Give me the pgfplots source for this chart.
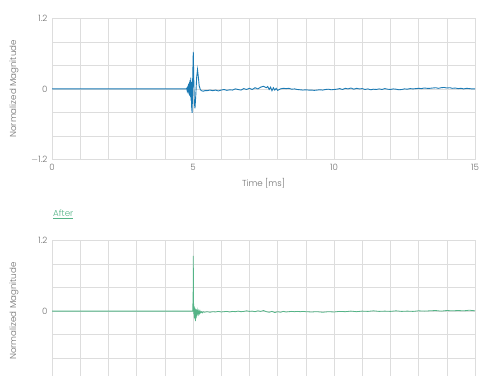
\documentclass[border=0pt]{standalone}
\usepackage{pgfplots}
\pgfplotsset{compat=1.18}
\usepackage{fontspec}
\setmainfont{Poppins}[UprightFont=* Light]
\definecolor{topblue}{HTML}{1B7AB4}
\definecolor{botgreen}{HTML}{55B487}
\definecolor{gridgray}{HTML}{DDDDDD}
\definecolor{txtgray}{HTML}{707070}
\pgfplotsset{
  myaxis/.style={
    scale only axis, width=423pt, height=140.8pt,
    xmin=0, xmax=15, ymin=-1.2, ymax=1.2,
    xtick={0,...,15},
    ytick={-1.2,-0.8,-0.4,0,0.4,0.8,1.2},
    major tick length=0pt,
    grid=major,
    grid style={gridgray, line width=0.6pt},
    axis line style={gridgray, line width=0.8pt},
    tick label style={font=\fontsize{8.7}{10}\selectfont, text=txtgray},
    label style={font=\fontsize{8.7}{10}\selectfont, text=txtgray},
    /pgf/number format/assume math mode=true,
    xticklabel style={yshift=-1pt},
    yticklabel style={xshift=-1pt},
    ylabel style={at={(axis description cs:0,0.5)}, anchor=center, yshift=38pt},
    ylabel={Normalized Magnitude},
  }
}
\begin{document}
\begin{tikzpicture}[x=1pt,y=1pt]
\useasboundingbox (0,0) rectangle (500,375);
\clip (0,0) rectangle (500,375);
\begin{axis}[myaxis, at={(52pt,215.7pt)}, anchor=south west,
  xticklabels={0,,,,,5,,,,,10,,,,,15},
  yticklabels={$-$1.2,,,0,,,1.2},
  xlabel={Time [ms]},
  xlabel style={at={(axis description cs:0.5,0)}, anchor=center, yshift=-24pt}]
\addplot[topblue, line width=0.9pt] coordinates {
(0,0) (4.76,0) (4.78,0.01) (4.79,-0.02) (4.80,0.03) (4.81,-0.04) (4.82,0.05)
(4.83,-0.06) (4.84,0.08) (4.85,-0.08) (4.86,0.1) (4.87,-0.1) (4.88,0.12)
(4.89,-0.12) (4.90,0.15) (4.91,-0.14) (4.92,0.19) (4.93,-0.2) (4.94,0.12)
(4.95,-0.3) (4.97,-0.41) (4.99,0.2) (5.01,0.63) (5.03,0.1) (5.05,-0.25)
(5.07,-0.33) (5.10,-0.1) (5.13,0.2) (5.16,0.33) (5.19,0.2) (5.22,0.05)
(5.26,-0.01) (5.30,-0.03) (5.36,-0.04) (5.42,-0.03)
(5.5,-0.03) (5.6,-0.02) (5.7,-0.03) (5.8,-0.02) (5.9,-0.035) (6.0,-0.02)
(6.1,-0.01) (6.2,-0.025) (6.3,-0.015) (6.4,-0.02) (6.5,0.0) (6.6,-0.01)
(6.7,-0.02) (6.8,0.005) (6.9,-0.01) (7.0,0.01) (7.1,-0.01) (7.2,0.02)
(7.3,0.0) (7.4,0.03) (7.5,0.045) (7.6,0.02) (7.65,0.04) (7.7,-0.01)
(7.75,0.03) (7.8,-0.03) (7.85,0.02) (7.9,-0.02) (7.95,0.01) (8.0,-0.025)
(8.1,0.0) (8.2,0.01) (8.3,0.005) (8.4,0.01) (8.5,-0.005) (8.6,0.0)
(8.7,-0.01) (8.8,-0.015) (8.9,-0.02) (9.0,-0.015) (9.1,-0.02) (9.2,-0.02)
(9.3,-0.025) (9.4,-0.02) (9.5,-0.015) (9.6,-0.02) (9.7,-0.01) (9.8,-0.005)
(9.9,-0.015) (10.0,-0.01) (10.1,-0.005) (10.2,0.005) (10.3,-0.01) (10.4,0.01)
(10.5,0.0) (10.6,0.015) (10.7,-0.005) (10.8,0.01) (10.9,0.0) (11.0,0.005)
(11.1,-0.01) (11.2,0.0) (11.3,-0.015) (11.4,-0.005) (11.5,-0.01) (11.6,0.0)
(11.7,-0.01) (11.8,0.005) (11.9,-0.005) (12.0,-0.01) (12.1,0.0) (12.2,-0.005)
(12.3,-0.015) (12.4,-0.01) (12.5,0.0) (12.6,-0.005) (12.7,0.005) (12.8,0.0)
(12.9,0.005) (13.0,0.01) (13.1,0.005) (13.2,0.015) (13.3,0.01) (13.4,0.01)
(13.5,0.015) (13.6,0.02) (13.7,0.01) (13.8,0.02) (13.9,0.025) (14.0,0.015)
(14.1,0.02) (14.2,0.01) (14.3,0.015) (14.4,0.005) (14.5,0.01) (14.6,0.0)
(14.7,0.01) (14.8,0.005) (14.9,0.0) (15.0,0.0)
};
\end{axis}
\node[anchor=base west, text=botgreen, font=\fontsize{8.7}{10}\selectfont, inner sep=0pt]
  at (53pt,158pt) {\underline{After}};
\begin{axis}[myaxis, at={(52pt,-6.5pt)}, anchor=south west,
  xticklabels={},
  yticklabels={,,,0,,,1.2}]
\addplot[botgreen, line width=0.8pt] coordinates {
(0,0) (4.99,0) (5.005,0.3) (5.01,0.94) (5.015,0.5) (5.02,0.15) (5.03,-0.05)
(5.04,0.08) (5.05,-0.12) (5.06,0.06) (5.07,-0.14) (5.08,0.04) (5.09,-0.17)
(5.10,0.02) (5.11,-0.12) (5.12,0.03) (5.13,-0.09) (5.14,0.02) (5.15,-0.07)
(5.17,0.01) (5.19,-0.05) (5.21,0.0) (5.23,-0.04) (5.25,0.0) (5.27,-0.03)
(5.30,-0.01) (5.33,-0.03) (5.36,-0.01)
(5.4,-0.02) (5.5,-0.01) (5.6,-0.02) (5.7,-0.01) (5.8,-0.015) (5.9,-0.005)
(6.0,-0.015) (6.1,-0.01) (6.2,-0.005) (6.3,-0.015) (6.4,-0.005) (6.5,-0.01)
(6.6,0.0) (6.7,-0.01) (6.8,-0.005) (6.9,0.005) (7.0,-0.005) (7.1,0.0)
(7.2,-0.01) (7.3,0.005) (7.4,-0.005) (7.5,0.01) (7.6,-0.01) (7.7,-0.02)
(7.8,-0.005) (7.9,-0.025) (8.0,-0.01) (8.1,-0.02) (8.2,-0.005) (8.3,-0.015)
(8.4,-0.01) (8.5,-0.005) (8.6,-0.01) (8.7,-0.005) (8.8,-0.01) (8.9,-0.005)
(9.0,-0.01) (9.2,-0.015) (9.4,-0.01) (9.6,-0.02) (9.8,-0.01) (10.0,-0.015)
(10.2,-0.005) (10.4,-0.01) (10.6,0.0) (10.8,-0.01) (11.0,0.0) (11.2,-0.005)
(11.4,0.005) (11.6,-0.005) (11.8,0.0) (12.0,-0.005) (12.2,0.005) (12.4,-0.005)
(12.6,0.0) (12.8,-0.005) (13.0,0.005) (13.2,0.0) (13.4,0.005) (13.6,0.01)
(13.8,0.0) (14.0,0.01) (14.2,0.005) (14.4,0.01) (14.6,0.005) (14.8,0.015)
(15.0,0.005)
};
\end{axis}
\end{tikzpicture}
\end{document}
